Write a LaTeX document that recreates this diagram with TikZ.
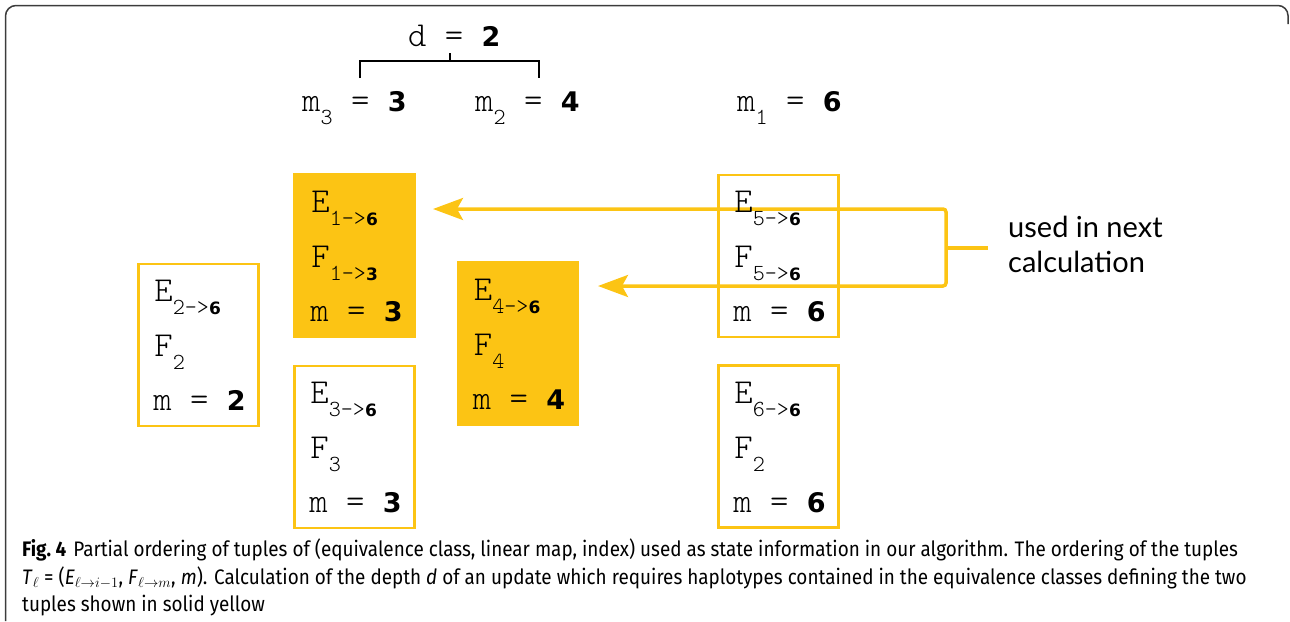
\documentclass[tikz,border=0pt]{standalone}
\usepackage{fontspec}
\usetikzlibrary{arrows.meta,calc}
\newfontfamily\dvs{DejaVu Sans}
\newfontfamily\capfont[FakeStretch=0.9]{Fira Sans}
\newfontfamily\latofont{Lato}
\newfontfamily\ttl{Latin Modern Mono Light}
\definecolor{yl}{RGB}{252,196,20}
\definecolor{frm}{RGB}{60,60,60}
\newcommand\subx[2]{\raisebox{-13pt}{\fontsize{23}{23}\selectfont\ttl #1{\dvs\bfseries\fontsize{17}{17}\selectfont #2}}}
\newcommand\bnum[1]{{\dvs\bfseries\fontsize{27}{27}\selectfont #1}}
\newcommand\tline{\fontsize{35}{35}\selectfont\ttl}
\tikzset{
  tbox/.style={draw=yl, line width=2.5pt, minimum width=120pt, minimum height=162pt, inner sep=0pt, fill=white},
  fbox/.style={tbox, fill=yl},
  txt/.style={anchor=base west, inner sep=0pt, text=black},
  conn/.style={draw=yl, line width=3.5pt},
  brk/.style={draw=black, line width=2pt},
  captxt/.style={txt, font=\capfont\fontsize{21}{21}\selectfont},
}
\begin{document}
\begin{tikzpicture}[x=1pt,y=-1pt]
\useasboundingbox (0,0) rectangle (1290,621);
% frame
\draw[frm, line width=1.5pt] (5.5,621) -- (5.5,16) arc[start angle=180,end angle=270,radius=10.5] -- (1278,5.5) arc[start angle=270,end angle=360,radius=10] -- (1288,24);

% top labels
\node[txt] (dl) at (408,46) {\tline d = \bnum{2}};
\node[txt] (m3) at (302,111) {\tline m\subx{3}{} = \bnum{3}};
\node[txt] (m2) at (475,111) {\tline m\subx{2}{} = \bnum{4}};
\node[txt] (m1) at (737,111) {\tline m\subx{1}{} = \bnum{6}};
\coordinate (bl) at (360,78);
\coordinate (br) at (539,78);
\coordinate (bt) at (450,53);
\draw[brk] (bl) -- (360,61) -- (539,61) -- (br);
\draw[brk] (bt) -- (450,61);

% boxes
\node[tbox] (A) at (198.5,345) {};
\node[fbox] (B) at (354.5,255.5) {};
\node[tbox] (C) at (354.5,447) {};
\node[fbox] (D) at (518,343.5) {};
\node[tbox] (E) at (778.5,256) {};
\node[tbox] (F) at (778.5,446.5) {};

% connectors
\coordinate (t1) at (433,209);
\coordinate (t2) at (598,286);
\coordinate (jt) at (946,209);
\coordinate (jb) at (946,286);
\coordinate (jm) at (946,248);
\coordinate (js) at (988,248);
\draw[conn, rounded corners=3pt, {Stealth[length=30pt,width=22pt,inset=6pt]}-{Stealth[length=30pt,width=22pt,inset=6pt]}] (t1) -- (jt) -- (jb) -- (t2);
\draw[conn] (jm) -- (js);

% box texts
\node[txt] (A1) at ($(A.north west)+(17,39)$) {\tline E\subx{2->}{6}};
\node[txt] (A2) at ($(A.north west)+(17,94)$) {\tline F\subx{2}{}};
\node[txt] (A3) at ($(A.north west)+(16,148)$) {\tline m = \bnum{2}};

\node[txt] (B1) at ($(B.north west)+(18,39)$) {\tline E\subx{1->}{6}};
\node[txt] (B2) at ($(B.north west)+(18,94)$) {\tline F\subx{1->}{3}};
\node[txt] (B3) at ($(B.north west)+(17,148)$) {\tline m = \bnum{3}};

\node[txt] (C1) at ($(C.north west)+(17,39)$) {\tline E\subx{3->}{6}};
\node[txt] (C2) at ($(C.north west)+(17,94)$) {\tline F\subx{3}{}};
\node[txt] (C3) at ($(C.north west)+(16,148)$) {\tline m = \bnum{3}};

\node[txt] (D1) at ($(D.north west)+(17,39)$) {\tline E\subx{4->}{6}};
\node[txt] (D2) at ($(D.north west)+(17,94)$) {\tline F\subx{4}{}};
\node[txt] (D3) at ($(D.north west)+(16,148)$) {\tline m = \bnum{4}};

\node[txt] (E1) at ($(E.north west)+(17,39)$) {\tline E\subx{5->}{6}};
\node[txt] (E2) at ($(E.north west)+(17,94)$) {\tline F\subx{5->}{6}};
\node[txt] (E3) at ($(E.north west)+(16,148)$) {\tline m = \bnum{6}};

\node[txt] (F1) at ($(F.north west)+(17,39)$) {\tline E\subx{6->}{6}};
\node[txt] (F2) at ($(F.north west)+(17,94)$) {\tline F\subx{2}{}};
\node[txt] (F3) at ($(F.north west)+(16,148)$) {\tline m = \bnum{6}};

% side label
\node[txt] (u1) at (1008,237) {\latofont\fontsize{29}{29}\selectfont used in next};
\node[txt] (u2) at (1008,272) {\latofont\fontsize{29}{29}\selectfont calculation};

% caption
\node[captxt] (c1) at (22,556) {\textbf{Fig.~4}\hspace{7pt}Partial ordering of tuples of (equivalence class, linear map, index) used as state information in our algorithm. The ordering of the tuples};
\node[captxt] (c2) at (22,584) {\textit{T}$_\ell$ = (\textit{E}$_{\ell\rightarrow i-1}$, \textit{F}$_{\ell\rightarrow m}$, \textit{m}). Calculation of the depth \textit{d} of an update which requires haplotypes contained in the equivalence classes defining the two};
\node[captxt] (c3) at (22,611) {tuples shown in solid yellow};
\end{tikzpicture}
\end{document}
